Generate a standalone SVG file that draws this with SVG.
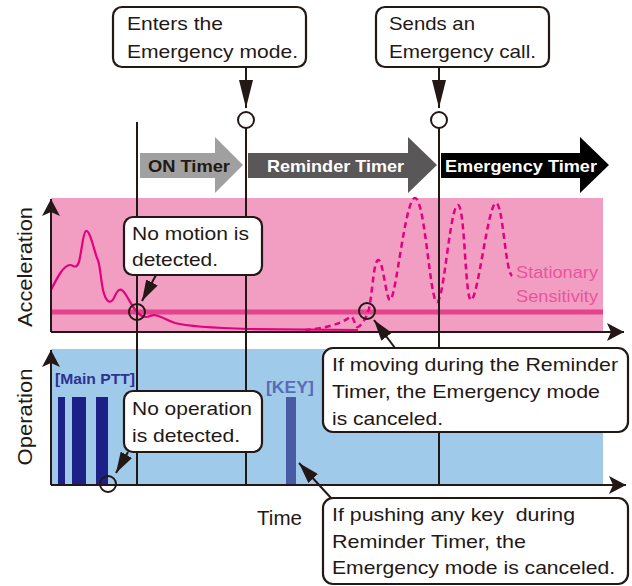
<svg xmlns="http://www.w3.org/2000/svg" width="632" height="586" viewBox="0 0 632 586">
<style>
.lbl{font-family:"Liberation Sans",Arial,sans-serif;fill:#231815}
.co{font-size:19px}
.tm{font-size:17px;font-weight:bold}
.box{fill:#fff;stroke:#231815;stroke-width:2.2}
.ln{stroke:#231815;stroke-width:2;fill:none}
.ring{fill:none;stroke:#231815;stroke-width:2}
</style>
<defs>
<marker id="ax" markerUnits="userSpaceOnUse" markerWidth="17" markerHeight="18" refX="17" refY="9" orient="auto" viewBox="0 0 17 18">
<path d="M0,0 L17,9 L0,18 L4,9 Z" fill="#231815"/>
</marker>
<marker id="arr" markerUnits="userSpaceOnUse" markerWidth="21" markerHeight="13" refX="21" refY="6.5" orient="auto" viewBox="0 0 21 13">
<path d="M0,0 L21,6.5 L0,13 Z" fill="#231815"/>
</marker>
<marker id="arrL" markerUnits="userSpaceOnUse" markerWidth="28" markerHeight="14" refX="28" refY="7" orient="auto" viewBox="0 0 28 14">
<path d="M0,0 L28,7 L0,14 Z" fill="#231815"/>
</marker>
</defs>

<g id="accel-panel">
<rect x="51" y="198" width="552" height="134" fill="#f19ec2"/>
<line x1="51" y1="312" x2="603" y2="312" stroke="#e5438b" stroke-width="5"/>
<path d="M51,290 C58,276 64,265 70,265 C74,265 76,270 79,262 C82,250 83,232 86,231 C90,230 94,250 97,258 C100,262 100,275 103,290 C106,302 110,305 114,298 C118,288 121,287 126,295 C131,303 134,310 138,313 C142,317 146,318 150,316 C156,313 162,318 175,323 C190,327 215,328 250,329 L358,330" fill="none" stroke="#e4007f" stroke-width="2.2"/>
<path d="M305,330 C320,329 340,325 350,317 C354,314 355,329 358,327 C362,325 366,318 368,312 C372,302 373,262 378,260 C383,258 386,300 390,300 C396,300 405,198 415,198 C425,198 430,302 437,302 C444,302 450,205 458,205 C465,205 465,300 471,300 C478,300 488,203 496,203 C503,203 505,270 512,276" fill="none" stroke="#e4007f" stroke-width="2.5" stroke-dasharray="6,4"/>
<text class="lbl" x="516" y="278" font-size="17" style="fill:#e8559c" textLength="82" lengthAdjust="spacingAndGlyphs">Stationary</text>
<text class="lbl" x="516" y="302" font-size="17" style="fill:#e8559c" textLength="82" lengthAdjust="spacingAndGlyphs">Sensitivity</text>
<text class="lbl" transform="translate(32,267) rotate(-90)" text-anchor="middle" font-size="20" textLength="120" lengthAdjust="spacingAndGlyphs">Acceleration</text>
</g>

<g id="operation-panel">
<rect x="51" y="349" width="552" height="136" fill="#9fcaea"/>
<rect x="58" y="397" width="7" height="88" fill="#1d2087"/>
<rect x="72" y="397" width="14" height="88" fill="#1d2087"/>
<rect x="96" y="397" width="12" height="88" fill="#1d2087"/>
<rect x="286" y="397" width="10" height="88" fill="#4a5ba6"/>
<text class="lbl" x="55" y="384" font-size="15" font-weight="bold" style="fill:#2e3192" textLength="80" lengthAdjust="spacingAndGlyphs">[Main PTT]</text>
<text class="lbl" x="266" y="393" font-size="17" font-weight="bold" style="fill:#5b6bb3" textLength="48" lengthAdjust="spacingAndGlyphs">[KEY]</text>
<text class="lbl" transform="translate(32,417) rotate(-90)" text-anchor="middle" font-size="20" textLength="97" lengthAdjust="spacingAndGlyphs">Operation</text>
<text class="lbl" x="257" y="525" font-size="20" textLength="45" lengthAdjust="spacingAndGlyphs">Time</text>
</g>

<g id="timers">
<path d="M140,153 H215 V137 L243,165 L215,193 V178 H140 Z" fill="#a0a0a0"/>
<path d="M248,153 H408 V137 L437,165 L408,193 V178 H248 Z" fill="#595757"/>
<path d="M441,153 H580 V137 L609,165 L580,193 V178 H441 Z" fill="#000"/>
<text class="lbl tm" x="148" y="172" textLength="82" lengthAdjust="spacingAndGlyphs">ON Timer</text>
<text class="lbl tm" x="267" y="172" style="fill:#fff" textLength="137" lengthAdjust="spacingAndGlyphs">Reminder Timer</text>
<text class="lbl tm" x="445" y="172" style="fill:#fff" textLength="152" lengthAdjust="spacingAndGlyphs">Emergency Timer</text>
</g>

<g id="connectors">
<line class="ln" x1="51" y1="332" x2="51" y2="199" marker-end="url(#ax)"/>
<line class="ln" x1="51" y1="332" x2="624" y2="332" marker-end="url(#ax)"/>
<line class="ln" x1="51" y1="485" x2="51" y2="350" marker-end="url(#ax)"/>
<line class="ln" x1="51" y1="485" x2="626" y2="485" marker-end="url(#ax)"/>
<line class="ln" x1="137" y1="122" x2="137" y2="485"/>
<line class="ln" x1="246" y1="128" x2="246" y2="485"/>
<line class="ln" x1="439" y1="128" x2="439" y2="485"/>
<circle class="ring" cx="246" cy="120" r="8"/>
<circle class="ring" cx="439" cy="120" r="8"/>
<circle class="ring" cx="137" cy="312" r="8"/>
<circle class="ring" cx="367" cy="311" r="8"/>
<circle class="ring" cx="108" cy="484" r="8"/>
<line class="ln" x1="246" y1="67" x2="246" y2="108" marker-end="url(#arrL)"/>
<line class="ln" x1="439" y1="67" x2="439" y2="108" marker-end="url(#arrL)"/>
<line class="ln" x1="156" y1="275" x2="142" y2="301" marker-end="url(#arr)"/>
<line class="ln" x1="128" y1="452" x2="116" y2="473" marker-end="url(#arr)"/>
<line class="ln" x1="395" y1="348" x2="374" y2="320" marker-end="url(#arr)"/>
<line class="ln" x1="331" y1="498" x2="299" y2="463" marker-end="url(#arr)"/>
</g>

<g id="callout-enters">
<rect class="box" x="113" y="7" width="193" height="60" rx="9"/>
<text class="lbl co" x="127" y="30" textLength="96" lengthAdjust="spacingAndGlyphs">Enters the</text>
<text class="lbl co" x="127" y="58" textLength="171" lengthAdjust="spacingAndGlyphs">Emergency mode.</text>
</g>

<g id="callout-sends">
<rect class="box" x="376" y="7" width="173" height="60" rx="9"/>
<text class="lbl co" x="389" y="30" textLength="86" lengthAdjust="spacingAndGlyphs">Sends an</text>
<text class="lbl co" x="389" y="58" textLength="147" lengthAdjust="spacingAndGlyphs">Emergency call.</text>
</g>

<g id="callout-no-motion">
<rect class="box" x="124" y="217" width="138" height="58" rx="9"/>
<text class="lbl co" x="132" y="240" textLength="117" lengthAdjust="spacingAndGlyphs">No motion is</text>
<text class="lbl co" x="132" y="266" textLength="86" lengthAdjust="spacingAndGlyphs">detected.</text>
</g>

<g id="callout-no-operation">
<rect class="box" x="124" y="391" width="138" height="61" rx="9"/>
<text class="lbl co" x="132" y="415" textLength="120" lengthAdjust="spacingAndGlyphs">No operation</text>
<text class="lbl co" x="132" y="442" textLength="108" lengthAdjust="spacingAndGlyphs">is detected.</text>
</g>

<g id="callout-moving">
<rect class="box" x="323" y="348" width="305" height="84" rx="10"/>
<text class="lbl co" x="332" y="371" textLength="286" lengthAdjust="spacingAndGlyphs">If moving during the Reminder</text>
<text class="lbl co" x="332" y="398" textLength="268" lengthAdjust="spacingAndGlyphs">Timer, the Emergency mode</text>
<text class="lbl co" x="332" y="425" textLength="111" lengthAdjust="spacingAndGlyphs">is canceled.</text>
</g>

<g id="callout-pushing">
<rect class="box" x="323" y="498" width="305" height="86" rx="10"/>
<text class="lbl co" x="332" y="521" xml:space="preserve" style="white-space:pre" textLength="243" lengthAdjust="spacingAndGlyphs">If pushing any key  during</text>
<text class="lbl co" x="332" y="548" textLength="194" lengthAdjust="spacingAndGlyphs">Reminder Timer, the</text>
<text class="lbl co" x="332" y="574" textLength="283" lengthAdjust="spacingAndGlyphs">Emergency mode is canceled.</text>
</g>
</svg>
